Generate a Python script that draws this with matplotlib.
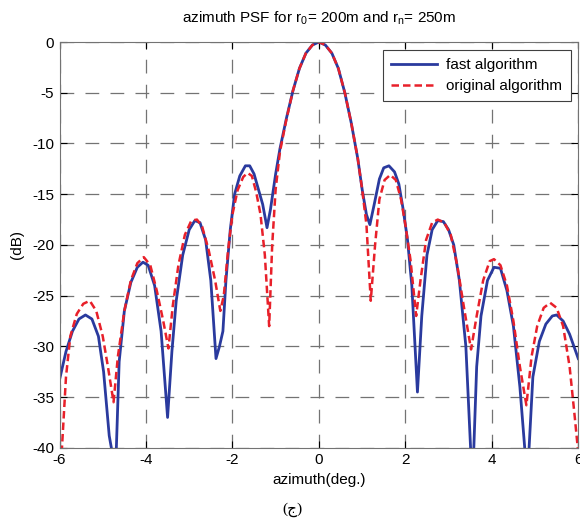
import matplotlib
matplotlib.use("Agg")
import matplotlib.pyplot as plt
import numpy as np

plt.rcParams['font.family'] = ['Liberation Sans', 'DejaVu Sans']
plt.rcParams['axes.unicode_minus'] = False
plt.rcParams['mathtext.default'] = 'regular'

# fast algorithm: azimuth (deg) and level (dB)
fast_x = [-6.0, -5.85, -5.7, -5.55, -5.4, -5.25, -5.1, -4.98, -4.85, -4.78, -4.7,
          -4.62, -4.5, -4.35, -4.2, -4.07, -3.95, -3.8, -3.65, -3.5, -3.4, -3.3,
          -3.15, -3.0, -2.87, -2.75, -2.62, -2.5, -2.38, -2.3, -2.22, -2.15, -2.05,
          -1.95, -1.83, -1.7, -1.6, -1.5, -1.4, -1.3, -1.2, -1.12, -1.0, -0.9,
          -0.75, -0.6, -0.45, -0.3, -0.15, 0.0, 0.15, 0.3, 0.45, 0.6, 0.75, 0.9,
          1.0, 1.1, 1.18, 1.28, 1.4, 1.5, 1.62, 1.75, 1.85, 1.95, 2.05, 2.15,
          2.28, 2.38, 2.5, 2.62, 2.75, 2.88, 3.0, 3.12, 3.25, 3.4, 3.52, 3.58,
          3.65, 3.75, 3.9, 4.05, 4.2, 4.35, 4.5, 4.65, 4.78, 4.85, 4.95, 5.1,
          5.25, 5.4, 5.5, 5.65, 5.8, 6.0]
fast_db = [-33.3, -30.5, -28.5, -27.3, -26.9, -27.3, -29.0, -32.5, -38.8, -40.5, -42.0,
           -31.5, -26.5, -23.7, -22.2, -21.7, -22.0, -24.0, -28.5, -37.0, -30.5, -25.5,
           -21.0, -18.5, -17.6, -17.8, -19.5, -23.5, -31.2, -30.0, -28.5, -23.5, -18.5,
           -15.0, -13.2, -12.2, -12.2, -13.0, -14.5, -16.0, -18.3, -16.5, -13.0, -10.5,
           -7.5, -4.8, -2.6, -1.1, -0.3, 0.0, -0.3, -1.1, -2.6, -5.0, -8.0, -11.5,
           -14.5, -17.0, -18.0, -16.0, -13.5, -12.4, -12.2, -12.8, -14.0, -16.5, -19.5, -24.0,
           -34.5, -27.0, -21.0, -18.5, -17.6, -17.7, -18.5, -20.0, -23.5, -30.0, -41.0, -40.5,
           -32.0, -27.0, -23.5, -22.2, -22.3, -24.5, -28.0, -34.0, -41.0, -41.0, -33.0, -29.5,
           -27.8, -27.0, -26.9, -27.5, -28.8, -31.2]

# original algorithm
orig_x = [-5.95, -5.85, -5.75, -5.6, -5.45, -5.3, -5.15, -5.0, -4.88, -4.75, -4.65,
          -4.5, -4.35, -4.2, -4.05, -3.9, -3.75, -3.6, -3.48, -3.38, -3.25, -3.1,
          -2.95, -2.82, -2.7, -2.55, -2.4, -2.28, -2.2, -2.1, -2.0, -1.88, -1.75,
          -1.65, -1.55, -1.45, -1.35, -1.25, -1.15, -1.08, -1.0, -0.9, -0.75, -0.6,
          -0.45, -0.3, -0.15, 0.0, 0.15, 0.3, 0.45, 0.6, 0.75, 0.9, 1.0, 1.1, 1.2,
          1.3, 1.4, 1.52, 1.65, 1.78, 1.9, 2.0, 2.12, 2.25, 2.35, 2.48, 2.62, 2.75,
          2.9, 3.05, 3.2, 3.35, 3.52, 3.65, 3.8, 3.95, 4.05, 4.2, 4.35, 4.5, 4.65,
          4.8, 4.92, 5.05, 5.2, 5.35, 5.5, 5.65, 5.8, 5.92, 6.0]
orig_db = [-40.5, -33.0, -29.0, -26.8, -25.8, -25.5, -26.5, -29.0, -32.0, -35.5, -31.0,
           -26.5, -23.5, -21.8, -21.2, -22.0, -24.5, -27.5, -30.2, -26.0, -22.0, -19.0,
           -17.6, -17.5, -18.2, -20.5, -23.5, -26.5, -25.0, -20.5, -17.0, -14.6, -13.3,
           -12.9, -13.2, -14.8, -17.0, -21.0, -28.0, -20.0, -14.5, -10.8, -7.6, -4.8,
           -2.6, -1.1, -0.3, 0.0, -0.3, -1.1, -2.6, -5.0, -8.0, -11.5, -14.5, -18.0, -25.5,
           -20.0, -15.5, -13.6, -13.1, -13.6, -15.5, -18.0, -21.5, -27.0, -23.5, -19.5, -17.8, -17.5,
           -17.8, -19.0, -22.0, -26.0, -30.3, -27.0, -23.5, -21.6, -21.4, -22.0, -24.0, -27.5, -32.0,
           -35.8, -31.0, -28.0, -26.2, -25.7, -26.2, -28.0, -32.0, -37.0, -40.5]

fig = plt.figure(figsize=(5.8, 5.22), dpi=100)
ax = fig.add_axes([0.1026, 0.142, 0.8944, 0.7775])

ax.plot(fast_x, fast_db, color='#2a3a9e', lw=2.0, label='fast algorithm')
ax.plot(orig_x, orig_db, color='#e8202a', lw=1.8, ls=(0, (3, 1.6)), label='original algorithm')

ax.set_xlim(-6, 6)
ax.set_ylim(-40, 0)
ax.set_xticks(np.arange(-6, 7, 2))
ax.set_yticks(np.arange(-40, 1, 5))
ax.tick_params(direction='in', length=5, labelsize=11, top=True, right=True,
               labeltop=False, labelright=False, pad=4)
ax.grid(True, color='0.45', ls=(0, (11, 9)), lw=0.9)
for s in ax.spines.values():
    s.set_color('0.45')

ax.set_title('azimuth PSF for r$_0$= 200m and r$_n$= 250m', fontsize=11, pad=14)
ax.set_xlabel('azimuth(deg.)', fontsize=11, labelpad=4)
ax.set_ylabel('(dB)', fontsize=11, labelpad=6)

leg = ax.legend(loc='upper right', fontsize=11, fancybox=False, framealpha=1,
                edgecolor='0.25', handlelength=3.0, borderaxespad=0.5,
                borderpad=0.55, handletextpad=0.6, labelspacing=0.45)
leg.get_frame().set_linewidth(0.8)

fig.text(0.505, 1 - 510 / 522, '(ج)', ha='center', va='center', fontsize=11,
         family=['Liberation Serif', 'DejaVu Sans'])

fig.savefig('out.png', dpi=100)
